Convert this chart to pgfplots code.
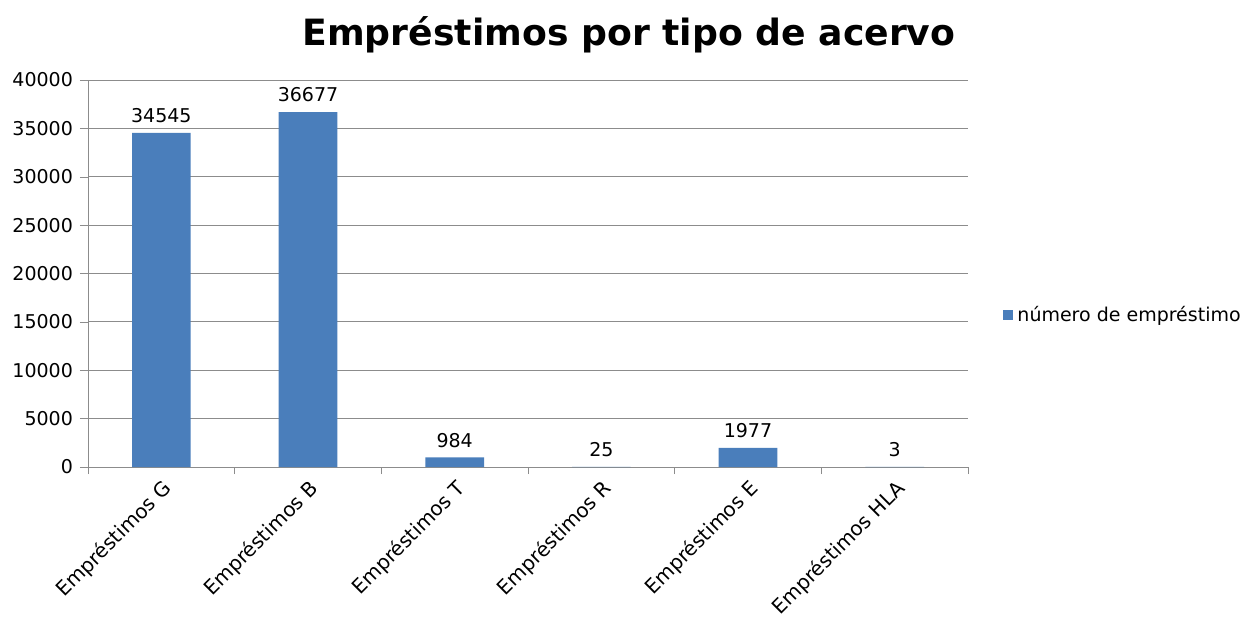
\documentclass[border=0pt]{standalone}
\usepackage{pgfplots}
\pgfplotsset{compat=1.18}
\usepackage{fontspec}
\setmainfont{DejaVu Sans}
\definecolor{barblue}{HTML}{4A7EBB}
\definecolor{axgray}{HTML}{8C8C8C}
\begin{document}
\begin{tikzpicture}
\begin{axis}[
    scale only axis,
    width=440pt, height=193.5pt,
    ybar, bar width=0.4,
    xmin=-0.5, xmax=5.5,
    ymin=0, ymax=40000,
    ytick={0,5000,...,40000},
    scaled y ticks=false,
    /pgf/number format/1000 sep={},
    /pgf/number format/assume math mode=true,
    xtick={0,...,5},
    xticklabels={Empréstimos G,Empréstimos B,Empréstimos T,Empréstimos R,Empréstimos E,Empréstimos HLA},
    tick label style={font=\fontsize{9.5}{11}\selectfont},
    x tick label style={rotate=45, anchor=north east, inner sep=1pt, font=\fontsize{10}{12}\selectfont},
    xtick style={draw=none},
    minor xtick={-0.5,0.5,1.5,2.5,3.5,4.5,5.5},
    minor x tick style={draw=axgray},
    minor tick length=3.5pt,
    major tick length=4pt,
    tick align=outside,
    ytick style={draw=axgray},
    axis x line*=bottom, axis y line*=left,
    axis line style={draw=axgray},
    ymajorgrids, grid style={axgray, line width=0.5pt},
    nodes near coords,
    nodes near coords style={font=\fontsize{9.5}{11}\selectfont, black, yshift=1.5pt},
    legend style={at={(1.033,0.393)}, anchor=west, draw=none, fill=none,
        font=\fontsize{9.5}{11}\selectfont},
    legend image code/.code={\fill[barblue] (0pt,-2.5pt) rectangle (5pt,2.5pt);},
]
\addplot[fill=barblue, draw=none] coordinates {(0,34545) (1,36677) (2,984) (3,25) (4,1977) (5,3)};
\legend{número de empréstimo}
\end{axis}
\node[anchor=base, font=\fontsize{18.1}{21}\selectfont\bfseries] at ([xshift=50.5pt, yshift=17.5pt]current axis.north) {Empréstimos por tipo de acervo};
\pgfresetboundingbox
\path[use as bounding box] ([xshift=-44pt, yshift=-75.5pt]current axis.south west) rectangle ([xshift=142.5pt, yshift=40pt]current axis.north east);
\end{tikzpicture}
\end{document}
